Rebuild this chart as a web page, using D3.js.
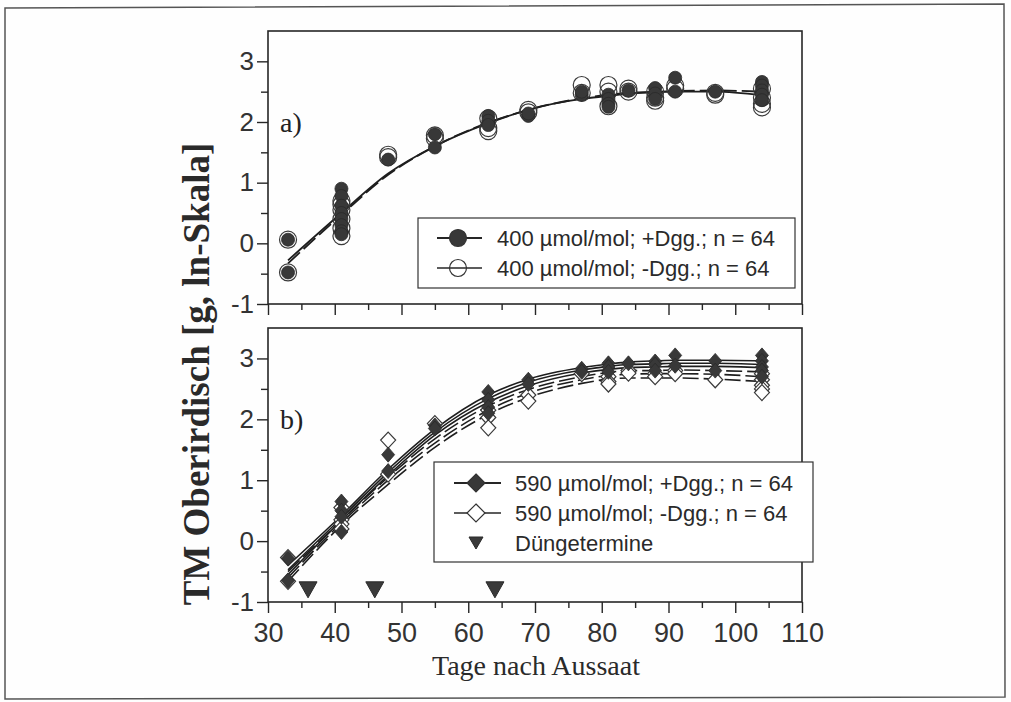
<!DOCTYPE html>
<html>
<head>
<meta charset="utf-8">
<script src="https://cdn.jsdelivr.net/npm/d3@7"></script>
<style>
body { margin: 0; background: #fff; }
svg { display: block; }
</style>
</head>
<body>
<div id="chart"></div>
<script>
// harvest days used for the fitted curves
var days = [33, 41, 48, 55, 63, 69, 77, 81, 84, 88, 91, 97, 104];

// panel a) 400 umol/mol, measured values [day, ln TM]
var a_plus = [[33,0.06],[33,-0.48],[41,0.9],[41,0.78],[41,0.62],[41,0.5],[41,0.4],[41,0.3],[41,0.2],[41,0.15],
  [48,1.38],[55,1.8],[55,1.58],[63,2.1],[63,2.02],[63,1.95],[69,2.1],[69,2.14],[77,2.45],[77,2.5],
  [81,2.45],[81,2.38],[81,2.3],[81,2.25],[84,2.52],[88,2.56],[88,2.47],[88,2.38],[91,2.73],[91,2.5],
  [97,2.5],[104,2.66],[104,2.6],[104,2.52],[104,2.45],[104,2.36]];
var a_minus = [[33,0.06],[33,-0.48],[41,0.7],[41,0.64],[41,0.55],[41,0.4],[41,0.25],[41,0.12],
  [48,1.46],[48,1.42],[55,1.78],[55,1.73],[63,2.06],[63,1.9],[63,1.85],[69,2.2],[69,2.16],[77,2.61],[77,2.48],
  [81,2.61],[81,2.5],[81,2.26],[84,2.5],[84,2.55],[88,2.5],[88,2.4],[88,2.35],[91,2.6],[91,2.55],
  [97,2.48],[97,2.45],[104,2.55],[104,2.4],[104,2.3],[104,2.24]];

// panel a) fitted curves, read at the harvest days
var a_fit_plus  = [-0.28, 0.5, 1.15, 1.6, 1.98, 2.2, 2.38, 2.43, 2.47, 2.49, 2.5, 2.5, 2.44];
var a_fit_minus = [-0.33, 0.47, 1.13, 1.6, 1.99, 2.2, 2.39, 2.45, 2.48, 2.5, 2.51, 2.52, 2.5];

// panel b) 590 umol/mol, measured values [day, ln TM]
var b_plus = [[33,-0.28],[33,-0.65],[41,0.65],[41,0.5],[41,0.4],[41,0.15],[48,1.42],[48,1.15],
  [55,1.9],[55,1.85],[63,2.45],[63,2.32],[63,2.2],[63,2.1],[69,2.65],[69,2.58],[77,2.83],[77,2.78],
  [81,2.92],[81,2.86],[81,2.78],[84,2.92],[88,2.95],[88,2.9],[88,2.8],[91,3.05],[91,2.88],
  [97,2.96],[97,2.8],[104,3.05],[104,2.96],[104,2.86],[104,2.8],[104,2.7]];
var b_minus = [[33,-0.27],[33,-0.66],[41,0.55],[41,0.35],[41,0.28],[41,0.2],[48,1.66],[48,1.1],
  [55,1.93],[63,2.15],[63,2.03],[63,1.86],[69,2.4],[69,2.3],[77,2.75],[81,2.7],[81,2.62],[81,2.58],
  [84,2.8],[84,2.76],[88,2.75],[88,2.7],[91,2.8],[91,2.75],[97,2.65],
  [104,2.75],[104,2.65],[104,2.56],[104,2.5],[104,2.44]];

// panel b) fitted curves, read at the harvest days
var b_fit_plus = [
  [-0.4, 0.42, 1.18, 1.84, 2.4, 2.66, 2.85, 2.91, 2.94, 2.96, 2.97, 2.97, 2.96],
  [-0.47, 0.38, 1.13, 1.79, 2.34, 2.61, 2.81, 2.87, 2.9, 2.91, 2.92, 2.92, 2.9],
  [-0.55, 0.34, 1.08, 1.74, 2.28, 2.55, 2.76, 2.82, 2.85, 2.86, 2.87, 2.87, 2.85]
];
var b_fit_minus = [
  [-0.5, 0.34, 1.05, 1.68, 2.22, 2.49, 2.7, 2.77, 2.8, 2.8, 2.81, 2.8, 2.78],
  [-0.6, 0.3, 1.0, 1.61, 2.15, 2.43, 2.65, 2.72, 2.74, 2.75, 2.75, 2.74, 2.7],
  [-0.66, 0.26, 0.93, 1.54, 2.08, 2.36, 2.59, 2.66, 2.68, 2.68, 2.68, 2.66, 2.62]
];

// fertilisation dates (Düngetermine)
var fert_days = [36, 46, 64];
var fert_level = -0.8;

var xTicksMajor = [30, 40, 50, 60, 70, 80, 90, 100, 110];
var xTicksMinor = [35, 45, 55, 65, 75, 85, 95, 105];
var yTicksMajor = [-1, 0, 1, 2, 3];
var yTicksMinor = [-0.5, 0.5, 1.5, 2.5];

var legendA = ["400 \u00b5mol/mol; +Dgg.; n = 64", "400 \u00b5mol/mol; -Dgg.; n = 64"];
var legendB = ["590 \u00b5mol/mol; +Dgg.; n = 64", "590 \u00b5mol/mol; -Dgg.; n = 64", "D\u00fcngetermine"];

var W = 1011, H = 702;
var ink = "#262626";
var sans = "'Liberation Sans', Arial, sans-serif";
var serif = "'Liberation Serif', 'Times New Roman', serif";

var svg = d3.select("#chart").append("svg")
    .attr("width", W)
    .attr("height", H);

svg.append("rect").attr("width", W).attr("height", H).attr("fill", "#fefefe");

// scanned page frame
svg.append("path")
    .attr("d", "M5,8 L1004,4 L1005,697 L5,699 Z")
    .attr("fill", "none")
    .attr("stroke", "#555")
    .attr("stroke-width", 1.5);

var x = d3.scaleLinear().domain([30, 110]).range([268, 802]);
var yA = d3.scaleLinear().domain([-1, 3.5]).range([304, 31]);
var yB = d3.scaleLinear().domain([-1, 3.5]).range([602, 328]);

function diamondPath(hw, hh) {
    return "M0," + (-hh) + "L" + hw + ",0L0," + hh + "L" + (-hw) + ",0Z";
}

function drawFrame(y, showLabels) {
    var g = svg.append("g");

    var yMaj = d3.axisLeft(y).tickValues(yTicksMajor).tickSize(11).tickPadding(3)
        .tickFormat(function(d) { return String(d); });
    var yMin = d3.axisLeft(y).tickValues(yTicksMinor).tickSize(7).tickFormat("");
    var xMaj = d3.axisBottom(x).tickValues(xTicksMajor).tickSize(11).tickPadding(10)
        .tickFormat(function(d) { return showLabels ? String(d) : ""; });
    var xMin = d3.axisBottom(x).tickValues(xTicksMinor).tickSize(6).tickFormat("");

    var gy = g.append("g").attr("transform", "translate(" + x(30) + ",0)").call(yMaj);
    g.append("g").attr("transform", "translate(" + x(30) + ",0)").call(yMin);
    var gx = g.append("g").attr("transform", "translate(0," + y(-1) + ")").call(xMaj);
    g.append("g").attr("transform", "translate(0," + y(-1) + ")").call(xMin);

    g.selectAll(".domain").remove();
    g.selectAll(".tick line").attr("stroke", ink).attr("stroke-width", 1.4);
    gy.selectAll("text").attr("font-family", sans).attr("font-size", 26).attr("fill", "#333");
    gx.selectAll("text").attr("font-family", sans).attr("font-size", 27).attr("fill", "#333");

    g.append("rect")
        .attr("x", x(30)).attr("y", y(3.5))
        .attr("width", x(110) - x(30)).attr("height", y(-1) - y(3.5))
        .attr("fill", "none").attr("stroke", ink).attr("stroke-width", 1.6);
}

function drawCurve(y, values, dashed, width) {
    var line = d3.line()
        .x(function(d, i) { return x(days[i]); })
        .y(function(d) { return y(d); })
        .curve(d3.curveMonotoneX);
    svg.append("path")
        .datum(values)
        .attr("d", line)
        .attr("fill", "none")
        .attr("stroke", "#1e1e1e")
        .attr("stroke-width", width)
        .attr("stroke-dasharray", dashed ? "16,5" : null);
}

// ---------- panel a ----------
drawFrame(yA, false);
drawCurve(yA, a_fit_minus, true, 1.8);
drawCurve(yA, a_fit_plus, false, 1.8);

svg.append("g").selectAll("circle")
    .data(a_minus).enter().append("circle")
    .attr("cx", function(d) { return x(d[0]); })
    .attr("cy", function(d) { return yA(d[1]); })
    .attr("r", 8.5)
    .attr("fill", "none")
    .attr("stroke", "#3a3a3a")
    .attr("stroke-width", 1.2);

svg.append("g").selectAll("circle")
    .data(a_plus).enter().append("circle")
    .attr("cx", function(d) { return x(d[0]); })
    .attr("cy", function(d) { return yA(d[1]); })
    .attr("r", 6.5)
    .attr("fill", "#383838")
    .attr("stroke", "#2a2a2a")
    .attr("stroke-width", 0.8);

svg.append("text")
    .attr("x", 280).attr("y", yA(2) + 10)
    .attr("font-family", serif).attr("font-size", 28).attr("fill", "#222")
    .text("a)");

// legend a
var legA = svg.append("g");
legA.append("rect")
    .attr("x", 418).attr("y", 218).attr("width", 377).attr("height", 70)
    .attr("fill", "#fff").attr("stroke", "#333").attr("stroke-width", 1.2);
legendA.forEach(function(label, i) {
    var cy = 238 + i * 30;
    legA.append("line").attr("x1", 437).attr("x2", 482).attr("y1", cy).attr("y2", cy)
        .attr("stroke", ink).attr("stroke-width", i === 0 ? 2 : 1.3);
    legA.append("circle").attr("cx", 458).attr("cy", cy).attr("r", 8.5)
        .attr("fill", i === 0 ? "#383838" : "none")
        .attr("stroke", "#333").attr("stroke-width", 1.2);
    legA.append("text").attr("x", 497).attr("y", cy).attr("dy", "0.36em")
        .attr("font-family", sans).attr("font-size", 22).attr("fill", "#2a2a2a")
        .text(label);
});

// ---------- panel b ----------
drawFrame(yB, true);
b_fit_minus.forEach(function(v) { drawCurve(yB, v, true, 1.6); });
b_fit_plus.forEach(function(v) { drawCurve(yB, v, false, 1.6); });

svg.append("g").selectAll("path")
    .data(b_minus).enter().append("path")
    .attr("transform", function(d) { return "translate(" + x(d[0]) + "," + yB(d[1]) + ")"; })
    .attr("d", diamondPath(7.5, 8))
    .attr("fill", "#fff")
    .attr("stroke", "#3a3a3a")
    .attr("stroke-width", 1.2);

svg.append("g").selectAll("path")
    .data(b_plus).enter().append("path")
    .attr("transform", function(d) { return "translate(" + x(d[0]) + "," + yB(d[1]) + ")"; })
    .attr("d", diamondPath(6.5, 7.5))
    .attr("fill", "#383838")
    .attr("stroke", "#2a2a2a")
    .attr("stroke-width", 0.8);

svg.append("g").selectAll("path")
    .data(fert_days).enter().append("path")
    .attr("transform", function(d) { return "translate(" + x(d) + "," + yB(fert_level) + ")"; })
    .attr("d", "M-9,-8L9,-8L0,8Z")
    .attr("fill", "#3a3a3a")
    .attr("stroke", "#2a2a2a");

svg.append("text")
    .attr("x", 280).attr("y", yB(2) + 10)
    .attr("font-family", serif).attr("font-size", 28).attr("fill", "#222")
    .text("b)");

// legend b
var legB = svg.append("g");
legB.append("rect")
    .attr("x", 434).attr("y", 462).attr("width", 379).attr("height", 100)
    .attr("fill", "#fff").attr("stroke", "#333").attr("stroke-width", 1.2);
legendB.forEach(function(label, i) {
    var cy = 483 + i * 30;
    if (i < 2) {
        legB.append("line").attr("x1", 454).attr("x2", 501).attr("y1", cy).attr("y2", cy)
            .attr("stroke", ink).attr("stroke-width", i === 0 ? 2 : 1.3);
        legB.append("path").attr("transform", "translate(476," + cy + ")")
            .attr("d", diamondPath(9, 9))
            .attr("fill", i === 0 ? "#383838" : "#fff")
            .attr("stroke", "#333").attr("stroke-width", 1.2);
    } else {
        legB.append("path").attr("transform", "translate(476," + cy + ")")
            .attr("d", "M-7,-6L7,-6L0,6Z")
            .attr("fill", "#3a3a3a").attr("stroke", "#2a2a2a");
    }
    legB.append("text").attr("x", 515).attr("y", cy).attr("dy", "0.36em")
        .attr("font-family", sans).attr("font-size", 22).attr("fill", "#2a2a2a")
        .text(label);
});

// axis titles
svg.append("text")
    .attr("transform", "translate(209,374) rotate(-90)")
    .attr("text-anchor", "middle")
    .attr("font-family", serif).attr("font-weight", "bold").attr("font-size", 37)
    .attr("fill", "#2a2a2a")
    .text("TM Oberirdisch [g, ln-Skala]");

svg.append("text")
    .attr("x", 536).attr("y", 675)
    .attr("text-anchor", "middle")
    .attr("font-family", serif).attr("font-size", 28)
    .attr("fill", "#2a2a2a")
    .text("Tage nach Aussaat");
</script>
</body>
</html>
